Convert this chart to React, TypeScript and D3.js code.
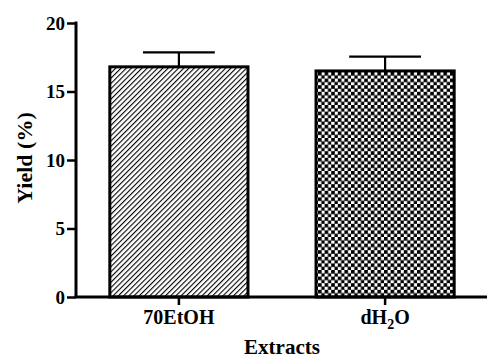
import * as d3 from 'd3';
import React, { useRef, useEffect } from 'react';

// values
const categories = ['70EtOH', 'dH2O'];
const yields = [16.8, 16.5];
const errors = [1.05, 1.05];
const yTicks = [0, 5, 10, 15, 20];

const W = 487, H = 358;
const FONT = "'Liberation Serif', 'Times New Roman', serif";

function YieldChart() {
    const ref = useRef<SVGSVGElement>(null);

    useEffect(() => {
        const svg = d3.select(ref.current);
        svg.selectAll('*').remove();

        const x = d3.scaleBand().domain(categories).range([76, 488]).paddingInner(0.33).paddingOuter(0.164);
        const y = d3.scaleLinear().domain([0, 20]).range([297, 23]);

        const defs = svg.append('defs');
        const hatch = defs.append('pattern')
            .attr('id', 'hatch')
            .attr('patternUnits', 'userSpaceOnUse')
            .attr('width', 3.7).attr('height', 3.7)
            .attr('patternTransform', 'rotate(45)');
        hatch.append('rect').attr('width', 3.7).attr('height', 3.7).attr('fill', 'white');
        hatch.append('line')
            .attr('x1', 0).attr('y1', 0).attr('x2', 0).attr('y2', 3.7)
            .attr('stroke', '#000').attr('stroke-width', 2.2);

        const checker = defs.append('pattern')
            .attr('id', 'checker')
            .attr('patternUnits', 'userSpaceOnUse')
            .attr('x', 318).attr('y', 72)
            .attr('width', 6.6).attr('height', 6.6);
        checker.append('rect').attr('width', 6.6).attr('height', 6.6).attr('fill', 'white');
        checker.append('rect').attr('width', 3.6).attr('height', 3.6).attr('fill', 'black');
        checker.append('rect').attr('x', 3.3).attr('y', 3.3).attr('width', 3.3).attr('height', 3.3).attr('fill', 'black');

        const fills = ['url(#hatch)', 'url(#checker)'];

        const g = svg.append('g');

        // error bars (drawn first so the bar outline sits on top)
        categories.forEach((c, i) => {
            const cx = x(c)! + x.bandwidth() / 2;
            const top = y(yields[i] + errors[i]);
            const capHalf = x.bandwidth() * 0.26;
            g.append('line')
                .attr('x1', cx).attr('x2', cx)
                .attr('y1', y(yields[i])).attr('y2', top)
                .attr('stroke', 'black').attr('stroke-width', 2.2);
            g.append('line')
                .attr('x1', cx - capHalf).attr('x2', cx + capHalf)
                .attr('y1', top).attr('y2', top)
                .attr('stroke', 'black').attr('stroke-width', 2.2);
        });

        g.selectAll('.bar')
            .data(categories)
            .enter()
            .append('rect')
            .attr('x', d => x(d)!)
            .attr('y', (d, i) => y(yields[i]))
            .attr('width', x.bandwidth())
            .attr('height', (d, i) => y(0) - y(yields[i]))
            .attr('fill', (d, i) => fills[i])
            .attr('stroke', 'black')
            .attr('stroke-width', 3);

        // y axis
        const yAxis = g.append('g')
            .attr('transform', 'translate(76,0)')
            .call(d3.axisLeft(y).tickValues(yTicks).tickSize(9).tickPadding(2));
        yAxis.select('.domain').attr('stroke-width', 3).attr('d', `M0,${y(20) - 1.5}V${y(0)}`);
        yAxis.selectAll('.tick line').attr('stroke-width', 2.5);
        yAxis.selectAll('.tick text')
            .attr('font-family', FONT)
            .attr('font-weight', 'bold')
            .attr('font-size', 19)
            .attr('fill', 'black');

        // x axis
        const xAxis = g.append('g')
            .attr('transform', 'translate(0,297)')
            .call(d3.axisBottom(x).tickSize(8).tickFormat(() => ''));
        xAxis.select('.domain').attr('stroke-width', 3).attr('d', 'M74.5,0H487');
        xAxis.selectAll('.tick line').attr('stroke-width', 2.5);

        const labelY = 324;
        g.append('text')
            .attr('x', x(categories[0])! + x.bandwidth() / 2)
            .attr('y', labelY)
            .attr('text-anchor', 'middle')
            .attr('font-family', FONT)
            .attr('font-weight', 'bold')
            .attr('font-size', 20)
            .text(categories[0]);
        const lab1 = g.append('text')
            .attr('x', x(categories[1])! + x.bandwidth() / 2)
            .attr('y', labelY)
            .attr('text-anchor', 'middle')
            .attr('font-family', FONT)
            .attr('font-weight', 'bold')
            .attr('font-size', 20);
        lab1.append('tspan').text('dH');
        lab1.append('tspan').attr('dy', 5).attr('font-size', 14).text('2');
        lab1.append('tspan').attr('dy', -5).text('O');

        g.append('text')
            .attr('x', 282)
            .attr('y', 354)
            .attr('text-anchor', 'middle')
            .attr('font-family', FONT)
            .attr('font-weight', 'bold')
            .attr('font-size', 21)
            .text('Extracts');

        g.append('text')
            .attr('transform', 'translate(32,158) rotate(-90)')
            .attr('text-anchor', 'middle')
            .attr('font-family', FONT)
            .attr('font-weight', 'bold')
            .attr('font-size', 22)
            .text('Yield (%)');
    }, []);

    return <svg ref={ref} width={W} height={H} style={{ display: 'block' }}></svg>;
}

export default function App() {
    return (
        <div style={{ position: 'absolute', left: 0, top: 0 }}>
            <YieldChart />
        </div>
    );
}
